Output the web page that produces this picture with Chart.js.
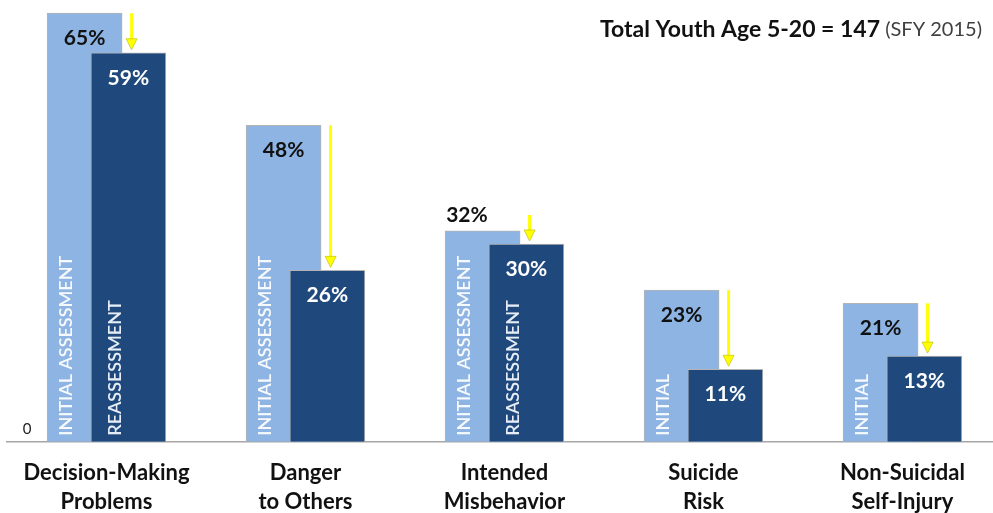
<!DOCTYPE html>
<html>
<head>
<meta charset="utf-8">
<script src="https://cdn.jsdelivr.net/npm/chart.js@4.4.0/dist/chart.umd.min.js"></script>
<style>
  html, body { margin: 0; padding: 0; background: #fff; }
  #wrap { width: 993px; height: 513px; position: relative; }
</style>
</head>
<body>
<div id="wrap"><canvas id="myChart"></canvas></div>
<script>
const categories = [
    ['Decision-Making', 'Problems'],
    ['Danger', 'to Others'],
    ['Intended', 'Misbehavior'],
    ['Suicide', 'Risk'],
    ['Non-Suicidal', 'Self-Injury']
];
const initialValues = [65, 48, 32, 23, 21];
const reassessValues = [59, 26, 30, 11, 13];
const initialTags = ['INITIAL ASSESSMENT', 'INITIAL ASSESSMENT', 'INITIAL ASSESSMENT', 'INITIAL', 'INITIAL'];
const reassessTags = ['REASSESSMENT', '', 'REASSESSMENT', '', ''];
const titleBold = 'Total Youth Age 5-20 = 147';
const titleNote = '(SFY 2015)';

const FONT = 'Lato';
const LIGHT = '#8db4e2';
const DARK = '#1f497d';
const SHIFT = 0.11; // how far each bar sits from the category centre

const labelsPlugin = {
    id: 'barLabels',
    afterDatasetsDraw(chart) {
        const ctx = chart.ctx;
        const yScale = chart.scales.y;
        const base = yScale.getPixelForValue(0);
        const darkMeta = chart.getDatasetMeta(0);
        const lightMeta = chart.getDatasetMeta(1);

        ctx.save();
        initialValues.forEach((v, i) => {
            const lb = lightMeta.data[i];
            const db = darkMeta.data[i];
            const lLeft = lb.x - lb.width / 2, lRight = lb.x + lb.width / 2;
            const dLeft = db.x - db.width / 2;

            // vertical tags
            ctx.save();
            ctx.font = '600 18px ' + FONT;
            ctx.textAlign = 'left';
            ctx.textBaseline = 'middle';
            ctx.fillStyle = 'rgba(255,255,255,0.92)';
            ctx.translate(lLeft + 19, base - 6);
            ctx.rotate(-Math.PI / 2);
            ctx.fillText(initialTags[i], 0, 0);
            ctx.restore();
            if (reassessTags[i]) {
                ctx.save();
                ctx.font = '600 18px ' + FONT;
                ctx.textAlign = 'left';
                ctx.textBaseline = 'middle';
                ctx.fillStyle = '#e6edf6';
                ctx.translate(dLeft + 24, base - 6);
                ctx.rotate(-Math.PI / 2);
                ctx.fillText(reassessTags[i], 0, 0);
                ctx.restore();
            }

            // value labels
            ctx.font = 'bold 21px ' + FONT;
            ctx.textAlign = 'center';
            ctx.textBaseline = 'middle';
            ctx.fillStyle = '#111';
            if (v - reassessValues[i] < 4) {
                ctx.fillText(v + '%', (lLeft + dLeft) / 2, lb.y - 16);
            } else {
                ctx.fillText(v + '%', lb.x, lb.y + 25);
            }
            ctx.fillStyle = '#fff';
            ctx.fillText(reassessValues[i] + '%', db.x, db.y + 25);

            // yellow arrow
            const ax = lRight + 9.5;
            const tip = db.y - 3;
            const start = Math.min(lb.y, tip - 26);
            ctx.strokeStyle = '#ffff00';
            ctx.lineWidth = 3;
            ctx.beginPath();
            ctx.moveTo(ax, start);
            ctx.lineTo(ax, tip - 9);
            ctx.stroke();
            ctx.fillStyle = '#ffff00';
            ctx.strokeStyle = '#b8b800';
            ctx.lineWidth = 0.6;
            ctx.beginPath();
            ctx.moveTo(ax - 5.5, tip - 11);
            ctx.lineTo(ax + 5.5, tip - 11);
            ctx.lineTo(ax, tip);
            ctx.closePath();
            ctx.fill();
            ctx.stroke();
        });

        // zero label
        ctx.font = '15px ' + FONT;
        ctx.fillStyle = '#222';
        ctx.textAlign = 'center';
        ctx.textBaseline = 'middle';
        ctx.fillText('0', chart.chartArea.left + 20, base - 13);

        // title, right aligned
        const right = chart.width - 11;
        ctx.textAlign = 'right';
        ctx.font = '20px ' + FONT;
        ctx.fillStyle = '#404040';
        ctx.fillText(titleNote, right, 30);
        const noteW = ctx.measureText(' ' + titleNote).width;
        ctx.font = 'bold 23px ' + FONT;
        ctx.fillStyle = '#111';
        ctx.fillText(titleBold, right - noteW, 30);
        ctx.restore();
    }
};

const config = {
    type: 'bar',
    data: {
        datasets: [{
            label: 'Reassessment',
            data: reassessValues.map((v, i) => ({x: i + SHIFT, y: v})),
            backgroundColor: DARK,
            borderColor: '#b4b4b4',
            borderWidth: 1,
            order: 0
        }, {
            label: 'Initial Assessment',
            data: initialValues.map((v, i) => ({x: i - SHIFT, y: v})),
            backgroundColor: LIGHT,
            borderColor: '#b4b4b4',
            borderWidth: 1,
            order: 1
        }]
    },
    options: {
        responsive: true,
        maintainAspectRatio: false,
        animation: false,
        layout: {
            padding: {left: 7, right: 0, top: 0, bottom: -20}
        },
        datasets: {
            bar: {
                grouped: false,
                barThickness: 75
            }
        },
        scales: {
            x: {
                type: 'linear',
                offset: false,
                min: -0.5,
                max: 4.455,
                afterBuildTicks: function(axis) {
                    axis.ticks = categories.map((c, i) => ({value: i}));
                },
                ticks: {
                    callback: function(value) {
                        return categories[value];
                    },
                    autoSkip: false,
                    maxRotation: 0,
                    padding: 17,
                    color: '#111',
                    font: {family: FONT, size: 22, weight: 'bold', lineHeight: 1.3}
                },
                grid: {
                    display: false,
                    drawTicks: false,
                    offset: false
                },
                border: {
                    display: true,
                    color: '#a6a6a6',
                    width: 1.5
                }
            },
            y: {
                display: false,
                min: 0,
                max: 67
            }
        },
        plugins: {
            legend: {display: false},
            tooltip: {enabled: false}
        }
    },
    plugins: [labelsPlugin]
};

const myChart = document.getElementById('myChart');
const chart = new Chart(myChart, config);
</script>
</body>
</html>
